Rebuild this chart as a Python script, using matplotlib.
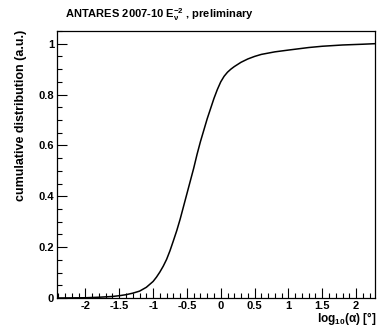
import matplotlib
matplotlib.use("Agg")
import matplotlib.pyplot as plt
from matplotlib.ticker import MultipleLocator, FixedLocator

# Cumulative distribution of the angular separation (log10 of degrees)
log_alpha = [-2.4, -2.2, -2.0, -1.8, -1.6, -1.5, -1.4, -1.3, -1.2, -1.1, -1.0, -0.95,
             -0.9, -0.85, -0.8, -0.75, -0.7, -0.65, -0.6, -0.55, -0.5, -0.45, -0.4,
             -0.35, -0.3, -0.25, -0.2, -0.15, -0.1, -0.05, 0.0, 0.05, 0.1, 0.15, 0.2,
             0.3, 0.4, 0.5, 0.6, 0.8, 1.0, 1.15, 1.3, 1.5, 1.8, 2.1, 2.27]
cumulative = [0.0, 0.0005, 0.001, 0.003, 0.006, 0.009, 0.013, 0.019, 0.027, 0.042, 0.065,
              0.082, 0.102, 0.125, 0.152, 0.186, 0.225, 0.265, 0.31, 0.36, 0.41, 0.46,
              0.51, 0.565, 0.615, 0.66, 0.705, 0.745, 0.785, 0.82, 0.85, 0.872, 0.888,
              0.9, 0.91, 0.927, 0.94, 0.95, 0.958, 0.968, 0.975, 0.98, 0.985, 0.99,
              0.995, 0.998, 1.0]

x_ticks = [-2, -1.5, -1, -0.5, 0, 0.5, 1, 1.5, 2]
x_ticklabels = ["-2", "-1.5", "-1", "-0.5", "0", "0.5", "1", "1.5", "2"]
y_ticks = [0, 0.2, 0.4, 0.6, 0.8, 1.0]
y_ticklabels = ["0", "0.2", "0.4", "0.6", "0.8", "1"]

plt.rcParams["font.family"] = ["Liberation Sans", "DejaVu Sans"]
plt.rcParams["font.weight"] = "bold"
plt.rcParams["mathtext.fontset"] = "custom"
plt.rcParams["mathtext.rm"] = "Liberation Sans:bold"
plt.rcParams["mathtext.bf"] = "Liberation Sans:bold"
plt.rcParams["mathtext.it"] = "Liberation Sans:bold"
plt.rcParams["mathtext.default"] = "bf"

fig = plt.figure(figsize=(3.77, 3.29), dpi=100)
ax = fig.add_axes([57 / 377, 1 - 298 / 329, (375 - 57) / 377, (298 - 31) / 329])

ax.plot(log_alpha, cumulative, color="black", lw=1.1)

ax.set_xlim(-2.42, 2.28)
ax.set_ylim(0, 1.05)

ax.xaxis.set_major_locator(FixedLocator(x_ticks))
ax.set_xticklabels(x_ticklabels)
ax.xaxis.set_minor_locator(MultipleLocator(0.1))
ax.yaxis.set_major_locator(FixedLocator(y_ticks))
ax.set_yticklabels(y_ticklabels)
ax.yaxis.set_minor_locator(MultipleLocator(0.05))

ax.tick_params(axis="both", which="major", direction="in", length=7, width=0.8,
               labelsize=8, top=False, right=False)
ax.tick_params(axis="both", which="minor", direction="in", length=3.5, width=0.8,
               top=False, right=False)
ax.tick_params(axis="x", which="major", pad=2)
ax.tick_params(axis="y", which="major", pad=2)
for lab in ax.get_xticklabels() + ax.get_yticklabels():
    lab.set_fontweight("bold")
for sp in ax.spines.values():
    sp.set_linewidth(0.9)

fig.text(65 / 377, 1 - 15 / 329, r"ANTARES 2007-10 E$_{\nu}^{-2}$ , preliminary",
         fontsize=8, fontweight="bold", ha="left", va="center")
fig.text(376 / 377, 1 - 327 / 329, r"log$_{10}$($\alpha$) [°]",
         fontsize=8.5, fontweight="bold", ha="right", va="bottom")
fig.text(21 / 377, 1 - 30 / 329, "cumulative distribution (a.u.)",
         fontsize=9, fontweight="bold", rotation=90, ha="center", va="top")

fig.savefig("out.png", dpi=100)
